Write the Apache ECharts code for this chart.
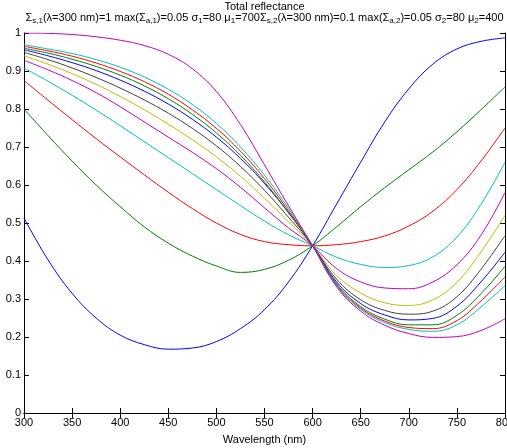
<!DOCTYPE html>
<html>
<head>
<meta charset="utf-8">
<script src="https://cdn.jsdelivr.net/npm/echarts@6/dist/echarts.min.js"></script>
<style>
html,body{margin:0;padding:0;background:#fff;}
#chart{width:507px;height:448px;}
</style>
</head>
<body>
<div id="chart"></div>
<script>
// Wavelengths (nm)
const wavelengths = [300,325,350,375,400,425,450,475,500,525,550,575,600,625,650,675,700,725,750,775,800];
// Total reflectance curves
const s1  = [0.513,0.403,0.315,0.250,0.205,0.180,0.168,0.171,0.188,0.222,0.272,0.345,0.440,0.550,0.660,0.766,0.853,0.918,0.958,0.978,0.987];
const s2  = [0.800,0.730,0.663,0.600,0.543,0.490,0.447,0.413,0.387,0.370,0.378,0.402,0.440,0.490,0.543,0.593,0.640,0.687,0.740,0.798,0.858];
const s3  = [0.875,0.823,0.772,0.722,0.674,0.627,0.581,0.538,0.500,0.470,0.451,0.443,0.440,0.443,0.451,0.466,0.492,0.531,0.588,0.663,0.750];
const s4  = [0.908,0.873,0.836,0.797,0.756,0.714,0.672,0.630,0.588,0.546,0.505,0.469,0.440,0.410,0.391,0.383,0.388,0.411,0.463,0.549,0.660];
const s5  = [0.928,0.903,0.875,0.843,0.806,0.766,0.726,0.686,0.643,0.594,0.540,0.487,0.440,0.380,0.345,0.329,0.327,0.345,0.390,0.468,0.580];
const s6  = [0.940,0.918,0.893,0.865,0.833,0.798,0.760,0.719,0.674,0.623,0.565,0.503,0.440,0.362,0.316,0.290,0.283,0.298,0.344,0.424,0.520];
const s7  = [0.949,0.930,0.908,0.883,0.855,0.824,0.789,0.749,0.703,0.649,0.586,0.515,0.440,0.352,0.298,0.270,0.260,0.268,0.306,0.378,0.467];
const s8  = [0.956,0.940,0.922,0.901,0.876,0.847,0.813,0.773,0.726,0.670,0.604,0.527,0.440,0.345,0.288,0.258,0.245,0.249,0.281,0.345,0.423];
const s9  = [0.960,0.947,0.931,0.912,0.889,0.861,0.827,0.786,0.737,0.678,0.608,0.527,0.440,0.340,0.280,0.247,0.232,0.232,0.257,0.314,0.386];
const s10 = [0.965,0.953,0.939,0.921,0.899,0.872,0.839,0.798,0.749,0.689,0.617,0.532,0.440,0.337,0.276,0.242,0.225,0.222,0.243,0.295,0.358];
const s11 = [0.969,0.958,0.946,0.930,0.910,0.884,0.852,0.812,0.762,0.700,0.626,0.538,0.440,0.335,0.273,0.238,0.220,0.215,0.232,0.279,0.335];
const s12 = [1.000,0.999,0.996,0.990,0.981,0.967,0.944,0.906,0.846,0.759,0.653,0.545,0.440,0.332,0.268,0.231,0.209,0.199,0.201,0.217,0.248];
const seriesValues = [s1,s2,s3,s4,s5,s6,s7,s8,s9,s10,s11,s12];
const xTicks = [300,350,400,450,500,550,600,650,700,750,800];
const yTicks = [0,0.1,0.2,0.3,0.4,0.5,0.6,0.7,0.8,0.9,1];
const titleText = 'Total reflectance';
const subtitleText = 'Σ{sub|s,1}(λ=300 nm)=1 max(Σ{sub|a,1})=0.05 σ{sub|1}=80 μ{sub|1}=700Σ{sub|s,2}(λ=300 nm)=0.1 max(Σ{sub|a,2})=0.05 σ{sub|2}=80 μ{sub|2}=400';
const xName = 'Wavelength (nm)';

const colors = ['#0000FF','#008000','#FF0000','#00BFBF','#BF00BF','#BFBF00','#404040'];
const FONT = "'Liberation Sans', Arial, Helvetica, sans-serif";

const chart = echarts.init(document.getElementById('chart'), null, {renderer:'canvas'});
const axisLine = {show:true, lineStyle:{color:'#000', width:1}};
const tick = {show:true, inside:true, length:5, lineStyle:{color:'#000', width:1}};
const GL = 24, GR = 2, GT = 33, GB = 35;
const cx = GL + (507 - GL - GR) / 2;

const option = {
  animation:false,
  backgroundColor:'#fff',
  graphic:[
    {type:'text', x:cx, y:7, z:10,
     style:{text:titleText, fontFamily:FONT, fontSize:11, fill:'#000',
            align:'center', verticalAlign:'middle', textAlign:'center', textVerticalAlign:'middle'}},
    {type:'text', x:cx, y:18, z:10,
     style:{text:subtitleText, fontFamily:FONT, fontSize:11, fill:'#000', lineHeight:14,
            align:'center', verticalAlign:'middle', textAlign:'center', textVerticalAlign:'middle',
            rich:{sub:{fontFamily:FONT, fontSize:8, fill:'#000', verticalAlign:'bottom', lineHeight:8}}}}
  ],
  grid:{left:GL, right:GR, top:GT, bottom:GB, containLabel:false, outerBoundsMode:'none'},
  xAxis:[
    {type:'value', position:'bottom', min:300, max:800, interval:50,
     axisLine:axisLine, axisTick:tick, splitLine:{show:false},
     axisLabel:{show:true, margin:4, fontFamily:FONT, fontSize:11, color:'#000',
       hideOverlap:false,
       formatter:v=>xTicks.includes(v)?String(v):''},
     name:xName, nameLocation:'middle', nameGap:21,
     nameTextStyle:{fontFamily:FONT, fontSize:11, color:'#000'}},
    {type:'value', position:'top', min:300, max:800, interval:50,
     axisLine:axisLine, axisTick:tick, splitLine:{show:false}, axisLabel:{show:false}}
  ],
  yAxis:[
    {type:'value', position:'left', min:0, max:1, interval:0.1,
     axisLine:axisLine, axisTick:tick, splitLine:{show:false},
     axisLabel:{show:true, margin:3, fontFamily:FONT, fontSize:11, color:'#000',
       formatter:v=>{const r=Math.round(v*10)/10; return yTicks.includes(r)?String(r):'';}}},
    {type:'value', position:'right', min:0, max:1, interval:0.1,
     axisLine:axisLine, axisTick:tick, splitLine:{show:false}, axisLabel:{show:false}}
  ],
  series: seriesValues.map((vals,i)=>({
    type:'line',
    xAxisIndex:0, yAxisIndex:0,
    data: wavelengths.map((w,j)=>[w, vals[j]]),
    showSymbol:false, symbol:'none',
    smooth:0.4,
    lineStyle:{color:colors[i%colors.length], width:1},
    itemStyle:{color:colors[i%colors.length]},
    clip:true,
    z: 2
  }))
};
chart.setOption(option);
</script>
</body>
</html>
